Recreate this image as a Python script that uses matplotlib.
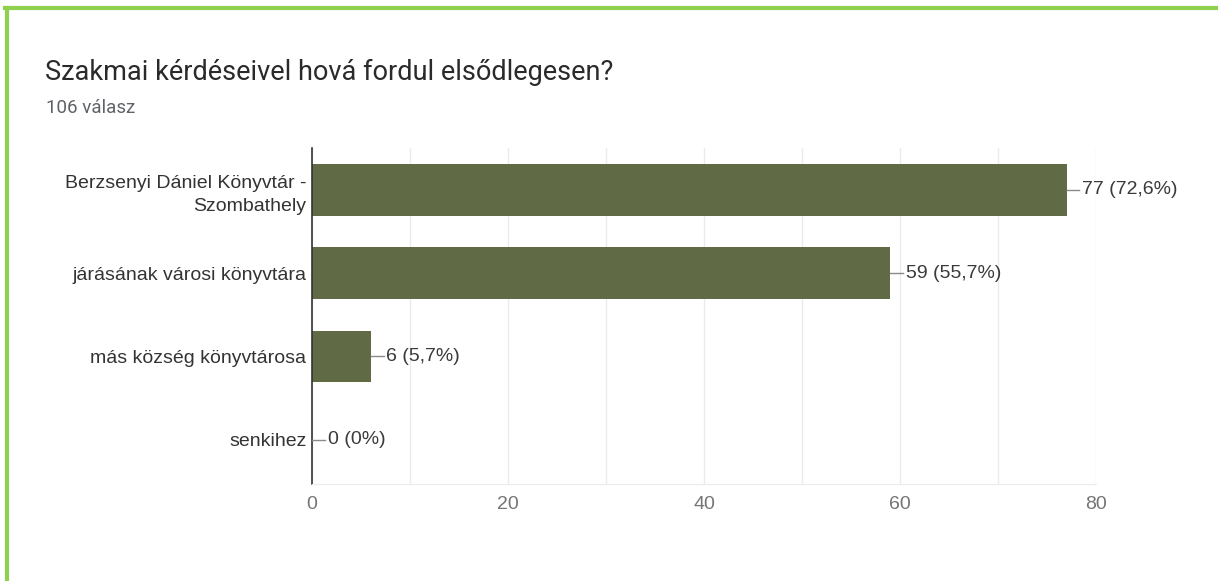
import matplotlib.pyplot as plt
from matplotlib.lines import Line2D

TITLE = "Szakmai kérdéseivel hová fordul elsődlegesen?"
SUBTITLE = "106 válasz"
CATEGORIES = [
    "Berzsenyi Dániel Könyvtár -\nSzombathely",
    "járásának városi könyvtára",
    "más község könyvtárosa",
    "senkihez",
]
COUNTS = [77, 59, 6, 0]
PERCENTS = ["72,6%", "55,7%", "5,7%", "0%"]
X_TICKS = [0, 20, 40, 60, 80]

BAR_COLOR = "#606b45"
BORDER_GREEN = "#8fd14f"

fig = plt.figure(figsize=(12.18, 5.81), dpi=100)
fig.patch.set_facecolor("white")

# green frame (top and left visible in the screenshot)
fig.add_artist(Line2D([5 / 1218, 1], [1 - 8 / 581, 1 - 8 / 581], color=BORDER_GREEN, lw=3))
fig.add_artist(Line2D([7 / 1218, 7 / 1218], [0, 1 - 8 / 581], color=BORDER_GREEN, lw=3))

fig.text(45 / 1218, 1 - 80 / 581, TITLE, fontsize=19.5, family="Roboto", color="#2a2a2a")
fig.text(46 / 1218, 1 - 113 / 581, SUBTITLE, fontsize=13.5, family="Roboto", color="#5f6368")

ax = fig.add_axes([312 / 1218, 97 / 581, 784 / 1218, 336 / 581])
ypos = list(range(len(CATEGORIES)))
ax.barh(ypos, COUNTS, height=0.62, color=BAR_COLOR, zorder=2)

ax.set_xlim(0, 80)
ax.set_ylim(3.53, -0.5)
ax.set_xticks(X_TICKS)
ax.set_xticks(range(10, 80, 20), minor=True)
ax.set_yticks(ypos)
ax.set_yticklabels(CATEGORIES, fontsize=14, family="Liberation Sans",
                   color="#333333", linespacing=1.45)
ax.tick_params(axis="y", length=0, pad=4)
ax.tick_params(axis="x", which="both", length=0, pad=8.5, labelsize=14,
               labelcolor="#757575")
for lbl in ax.get_xticklabels():
    lbl.set_family("Liberation Sans")

ax.grid(axis="x", which="both", color="#ebebeb", lw=1, zorder=0)
for side in ["top", "right"]:
    ax.spines[side].set_visible(False)
ax.spines["bottom"].set_color("#ebebeb")
ax.spines["left"].set_color("#333333")
ax.spines["left"].set_linewidth(1.2)

# leader lines + value labels
for y, c, p in zip(ypos, COUNTS, PERCENTS):
    ax.plot([c, c + 1.3], [y, y], color="#8a8a8a", lw=1, zorder=3, clip_on=False)
    ax.text(c + 1.6, y, f"{c} ({p})", va="center", ha="left", fontsize=14,
            family="Liberation Sans", color="#3a3a3a")

fig.savefig("out.png", dpi=100)
